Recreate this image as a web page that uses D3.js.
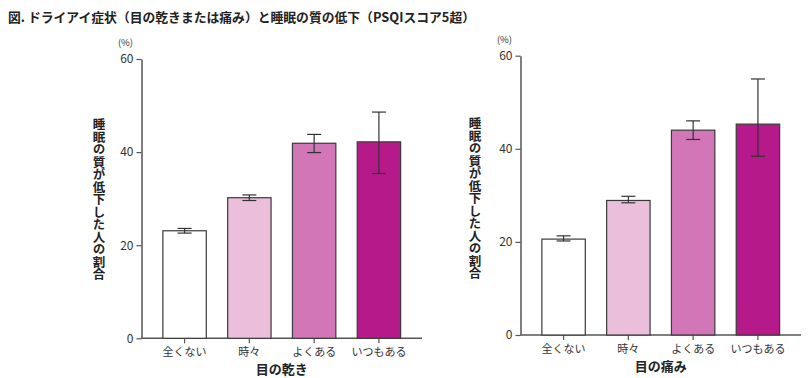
<!DOCTYPE html>
<html><head><meta charset="utf-8">
<script src="https://cdn.jsdelivr.net/npm/d3@7"></script>
<style>
body{margin:0;background:#fff;}
text{font-family:"Noto Sans CJK JP","Noto Sans",sans-serif;}
</style></head>
<body><svg id="c" width="810" height="378"></svg>
<script>
const title = "図. ドライアイ症状（目の乾きまたは痛み）と睡眠の質の低下（PSQIスコア5超）";
const categories = ["全くない","時々","よくある","いつもある"];
const colors = ["#ffffff","#ebbedc","#d276b7","#b5198a"];
const yTicks = [0,20,40,60];
const yLabel = "睡眠の質が低下した人の割合";
const unit = "(%)";
const dryTitle = "目の乾き";
const dryValues = [23.1, 30.2, 41.9, 42.2];
const dryLow = [22.6, 29.6, 39.9, 35.4];
const dryHigh = [23.6, 30.8, 43.8, 48.6];
const painTitle = "目の痛み";
const painValues = [20.6, 28.9, 44.0, 45.3];
const painLow = [20.2, 28.4, 42.0, 38.4];
const painHigh = [21.3, 29.8, 46.0, 55.0];

const svg = d3.select("#c");
svg.append("text").attr("x",8).attr("y",22).attr("font-size",12.8).attr("font-weight","bold").attr("fill","#222")
  .attr("textLength",467).attr("lengthAdjust","spacing").text(title);

function panel(o){
  const g = svg.append("g");
  const y = d3.scaleLinear().domain([0,60]).range([o.y0,o.y60]);
  const x = d3.scaleBand().domain(categories).range([o.xa, o.xe]).paddingInner(0.33).paddingOuter(0.33);
  const yAxis = g.append("g").attr("transform",`translate(${o.xa},0)`).call(d3.axisLeft(y).tickValues(yTicks).tickSize(5).tickSizeOuter(0).tickPadding(3));
  const xAxis = g.append("g").attr("transform",`translate(0,${o.y0})`).call(d3.axisBottom(x).tickSize(5).tickSizeOuter(0).tickPadding(5));
  [yAxis,xAxis].forEach(a=>{
    a.select(".domain").attr("stroke","#555").attr("stroke-width",1.5);
    a.selectAll(".tick line").attr("stroke","#555").attr("stroke-width",1.2);
    a.selectAll("text").attr("font-family","'Noto Sans CJK JP',sans-serif").attr("fill","#333");
  });
  yAxis.selectAll("text").attr("font-size",12);
  xAxis.selectAll("text").attr("font-size",11);
  xAxis.select(".domain").attr("d",`M${o.xa},0H${o.xe}`);
  g.selectAll("rect.bar").data(o.values).join("rect").attr("class","bar")
    .attr("x",(d,i)=>x(categories[i])).attr("width",x.bandwidth())
    .attr("y",d=>y(d)).attr("height",d=>o.y0-y(d))
    .attr("fill",(d,i)=>colors[i]).attr("stroke","#3a3a3a").attr("stroke-width",1.2);
  const eb = g.selectAll("g.err").data(o.values).join("g").attr("class","err");
  eb.append("line").attr("x1",(d,i)=>x(categories[i])+x.bandwidth()/2).attr("x2",(d,i)=>x(categories[i])+x.bandwidth()/2)
    .attr("y1",(d,i)=>y(o.low[i])).attr("y2",(d,i)=>y(o.high[i]));
  [o.low,o.high].forEach(arr=>{
    eb.append("line").attr("x1",(d,i)=>x(categories[i])+x.bandwidth()/2-7).attr("x2",(d,i)=>x(categories[i])+x.bandwidth()/2+7)
      .attr("y1",(d,i)=>y(arr[i])).attr("y2",(d,i)=>y(arr[i]));
  });
  eb.selectAll("line").attr("stroke","#333").attr("stroke-width",1.2);
  g.append("text").attr("x",o.xa-16).attr("y",o.y60-13).attr("font-size",9.5).attr("fill","#333").attr("text-anchor","middle").text(unit);
  g.append("text").attr("x",(o.xa+o.xe)/2).attr("y",o.y0+36).attr("font-size",13).attr("font-weight","bold").attr("fill","#222").attr("text-anchor","middle").text(o.title);
  g.append("text").attr("x",o.lx).attr("y",o.ly).attr("font-size",12.5).attr("font-weight","bold").attr("fill","#222")
    .style("writing-mode","vertical-rl").style("text-orientation","upright").attr("letter-spacing",0).text(yLabel);
}
panel({xa:141.5, xe:422, y0:338.3, y60:59, values:dryValues, low:dryLow, high:dryHigh, title:dryTitle, lx:99, ly:118});
panel({xa:520.5, xe:801, y0:335, y60:55.7, values:painValues, low:painLow, high:painHigh, title:painTitle, lx:475, ly:117});
</script></body></html>
